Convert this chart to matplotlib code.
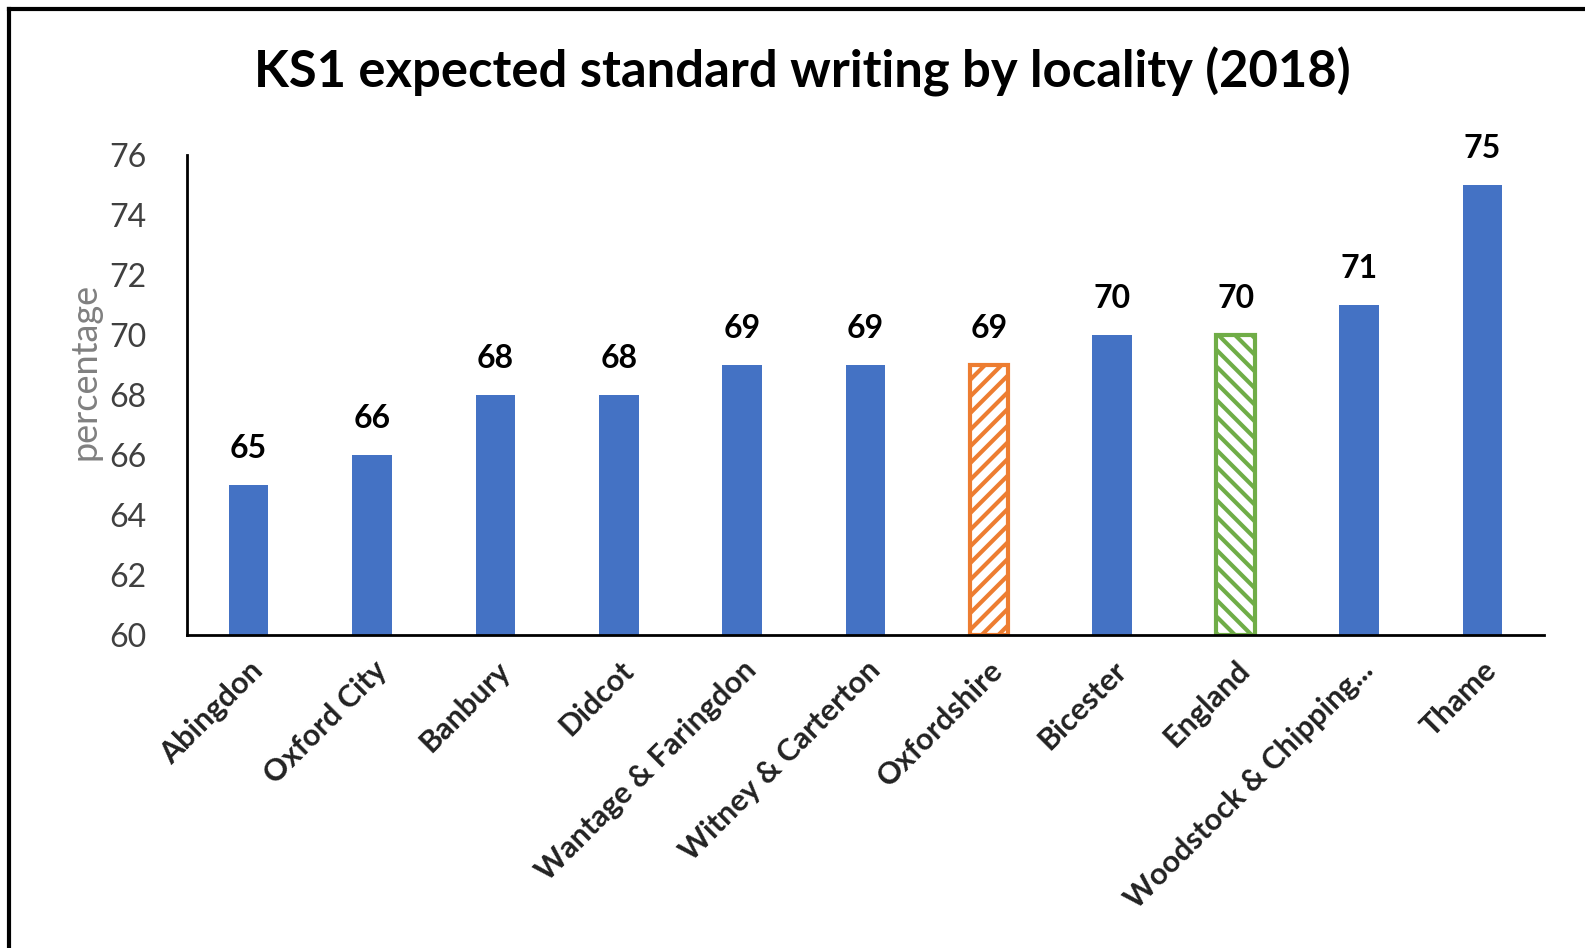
import numpy as np
import matplotlib
matplotlib.use("Agg")
import matplotlib.pyplot as plt
from matplotlib.lines import Line2D

plt.rcParams["font.family"] = ["Lato", "DejaVu Sans"]
plt.rcParams["hatch.linewidth"] = 3

# KS1 writing results by locality, sorted low to high
localities = ["Abingdon", "Oxford City", "Banbury", "Didcot", "Wantage & Faringdon",
              "Witney & Carterton", "Oxfordshire", "Bicester", "England",
              "Woodstock & Chipping...", "Thame"]
values = [65, 66, 68, 68, 69, 69, 69, 70, 70, 71, 75]
yticks = [60, 62, 64, 66, 68, 70, 72, 74, 76]

blue = "#4472C4"
orange = "#ED7D31"
green = "#70AD47"

fig = plt.figure(figsize=(15.85, 9.48), dpi=100)
ax = fig.add_axes([187 / 1585, 1 - 635 / 948, (1544 - 187) / 1585, (635 - 155) / 948])

x = np.arange(len(localities))
for i, (name, v) in enumerate(zip(localities, values)):
    if name == "Oxfordshire":
        ax.bar(i, v - 60, bottom=60, width=0.31, color="white", edgecolor=orange,
               hatch="//", linewidth=3)
    elif name == "England":
        ax.bar(i, v - 60, bottom=60, width=0.31, color="white", edgecolor=green,
               hatch="\\\\", linewidth=3)
    else:
        ax.bar(i, v - 60, bottom=60, width=0.32, color=blue)
    ax.text(i, v + 0.75, str(v), ha="center", va="bottom", fontsize=23,
            fontweight="bold", color="black")

ax.set_xlim(-0.5, len(localities) - 0.5)
ax.set_ylim(60, 76)
ax.set_yticks(yticks)
ax.set_yticklabels([str(t) for t in yticks], fontsize=23, color="#404040")
ax.set_xticks(x)
ax.set_xticklabels(localities, rotation=45, ha="right", rotation_mode="anchor",
                   fontsize=22, fontweight="bold", color="#222222")
ax.tick_params(axis="both", length=0)
ax.tick_params(axis="y", pad=29)
ax.tick_params(axis="x", pad=15)
ax.set_ylabel("percentage", fontsize=26, color="#808080")
ax.yaxis.set_label_coords(-0.063, 0.55)

for side in ["top", "right"]:
    ax.spines[side].set_visible(False)
ax.spines["left"].set_linewidth(2)
ax.spines["bottom"].set_linewidth(2)

fig.text(0.5064, 1 - 72 / 948, "KS1 expected standard writing by locality (2018)",
         ha="center", va="center", fontsize=36.5, fontweight="bold", color="black")

# outer frame (top and left edges)
fig.add_artist(Line2D([9 / 1585, 9 / 1585], [0, 1 - 9 / 948], color="black", linewidth=3,
                      transform=fig.transFigure))
fig.add_artist(Line2D([9 / 1585, 1], [1 - 9 / 948, 1 - 9 / 948], color="black", linewidth=3,
                      transform=fig.transFigure))

fig.savefig("out.png", dpi=100)
